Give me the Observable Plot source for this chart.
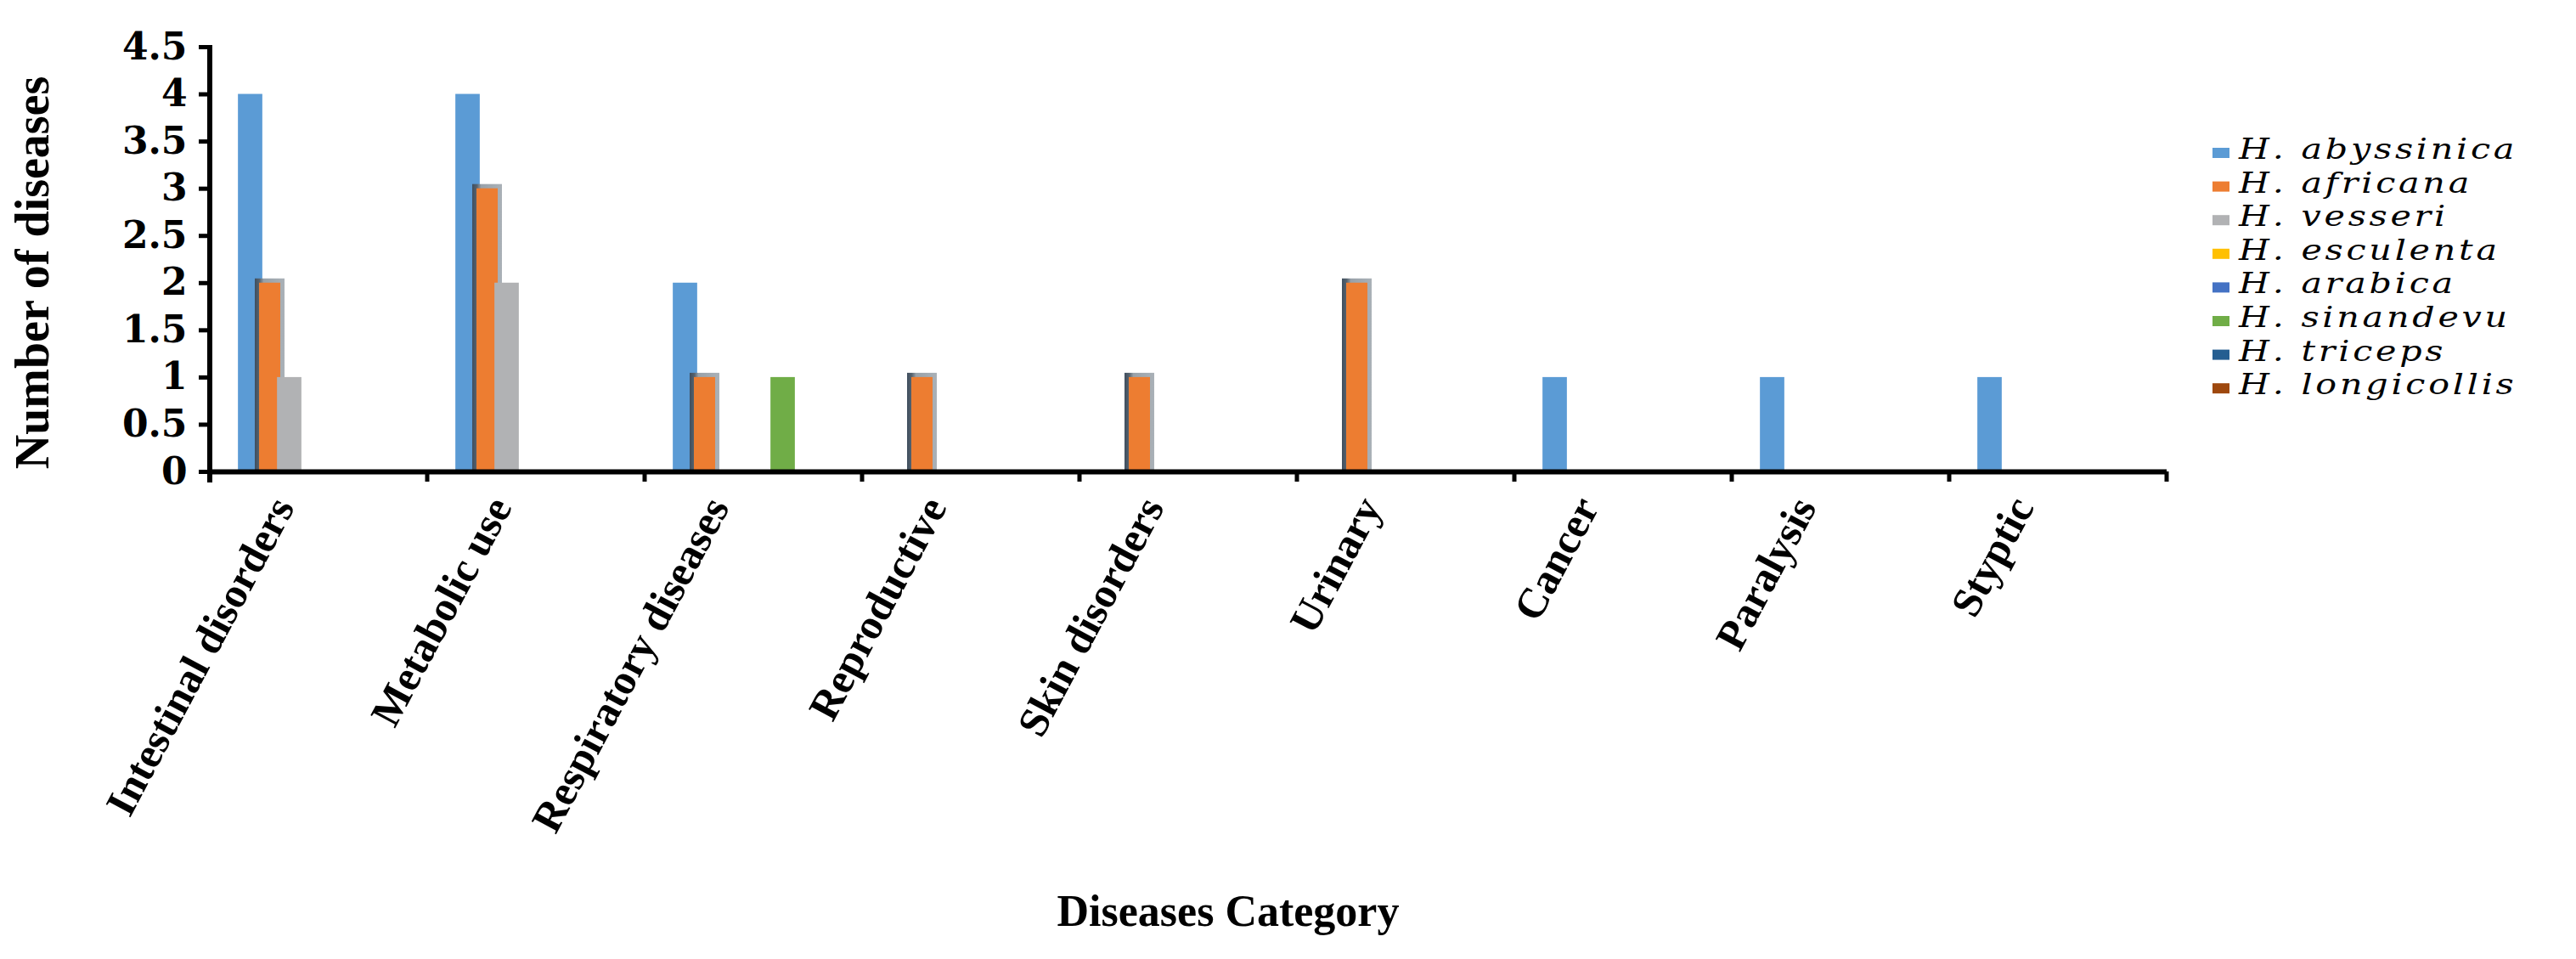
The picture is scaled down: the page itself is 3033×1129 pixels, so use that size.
<!DOCTYPE html>
<html>
<head>
<meta charset="utf-8">
<script src="https://cdn.jsdelivr.net/npm/d3@7"></script>
<script src="https://cdn.jsdelivr.net/npm/@observablehq/plot@0.6"></script>
<style>
  html, body { margin: 0; padding: 0; background: #fff; }
  #chart svg { display: block; }
</style>
</head>
<body>
<div id="chart"></div>
<script>
// ---- data ----
const categories = ["Intestinal disorders", "Metabolic use", "Respiratory diseases", "Reproductive",
  "Skin disorders", "Urinary", "Cancer", "Paralysis", "Styptic"];
const species = ["H. abyssinica", "H. africana", "H. vesseri", "H. esculenta",
  "H. arabica", "H. sinandevu", "H. triceps", "H. longicollis"];
const colors = ["#5B9BD5", "#ED7D31", "#B1B2B4", "#FFC000", "#4472C4", "#70AD47", "#255E91", "#9E480E"];

const abyssinica  = [4, 4, 2, 0, 0, 0, 1, 1, 1];
const africana    = [2, 3, 1, 1, 1, 2, 0, 0, 0];
const vesseri     = [1, 2, 0, 0, 0, 0, 0, 0, 0];
const esculenta   = [0, 0, 0, 0, 0, 0, 0, 0, 0];
const arabica     = [0, 0, 0, 0, 0, 0, 0, 0, 0];
const sinandevu   = [0, 0, 1, 0, 0, 0, 0, 0, 0];
const triceps     = [0, 0, 0, 0, 0, 0, 0, 0, 0];
const longicollis = [0, 0, 0, 0, 0, 0, 0, 0, 0];

const yTicks = [0, 0.5, 1, 1.5, 2, 2.5, 3, 3.5, 4, 4.5];
const yTitle = "Number of diseases";
const xTitle = "Diseases Category";

// ---- table ----
const seriesValues = [abyssinica, africana, vesseri, esculenta, arabica, sinandevu, triceps, longicollis];
const rows = [];
species.forEach((s, i) => categories.forEach((c, j) =>
  rows.push({category: c, species: s, value: seriesValues[i][j]})));
const shown = rows.filter(d => d.value > 0);
const first = shown.filter(d => d.species === species[0]);
const second = shown.filter(d => d.species === species[1]);
const rest = shown.filter(d => species.indexOf(d.species) >= 2);

const W = 3033, H = 1129;
const labelFont = "'Liberation Serif', serif";

const plot = Plot.plot({
  width: W,
  height: H,
  marginLeft: 247,
  marginRight: 482,
  marginTop: 55,
  marginBottom: 574,
  style: {background: "white", overflow: "visible"},
  fx: {domain: categories, padding: 0, label: null},
  x: {domain: species, paddingInner: 0, paddingOuter: 1.49, axis: null},
  y: {domain: [0, 4.5], label: null},
  color: {domain: species, range: colors},
  marks: [
    Plot.barY(first, {fx: "category", x: "species", y: "value", fill: "species",
      insetLeft: -2.85, insetRight: -2.85}),
    Plot.barY(second, {fx: "category", x: "species", y: "value", fill: "url(#orangeShadow)",
      insetLeft: -6, insetRight: -6, insetTop: -5}),
    Plot.barY(second, {fx: "category", x: "species", y: "value", fill: "species",
      insetLeft: -1, insetRight: -1}),
    Plot.barY(rest, {fx: "category", x: "species", y: "value", fill: "species",
      insetLeft: -2.85, insetRight: -2.85}),
    Plot.ruleY([0], {stroke: "black", strokeWidth: 6}),
    Plot.axisY({
      anchor: "left", ticks: yTicks, tickSize: 13, tickPadding: 14, strokeWidth: 5,
      tickFormat: d3.format("~g"), fontSize: 44, fontFamily: "'DejaVu Serif', serif",
      fontWeight: "bold", label: null
    }),
    Plot.axisFx({
      anchor: "bottom", tickSize: 0, tickPadding: 34, tickRotate: -62, dx: -42,
      fontSize: 50, fontFamily: labelFont, fontWeight: "bold", label: null
    })
  ]
});

document.getElementById("chart").appendChild(plot);

// ---- decorations drawn from the library's scales ----
const svg = d3.select(plot);
const fx = plot.scale("fx");
const y = plot.scale("y");
const y0 = y.apply(0), yTop = y.apply(4.5);
const left = fx.apply(categories[0]);
const right = fx.apply(categories[categories.length - 1]) + fx.bandwidth;

const defs = svg.append("defs");
const grad = defs.append("linearGradient").attr("id", "orangeShadow")
  .attr("x1", 0).attr("x2", 1).attr("y1", 0).attr("y2", 0);
grad.append("stop").attr("offset", 0).attr("stop-color", "#3f4e5e");
grad.append("stop").attr("offset", 0.16).attr("stop-color", "#56636f");
grad.append("stop").attr("offset", 0.3).attr("stop-color", "#98a1a9");
grad.append("stop").attr("offset", 1).attr("stop-color", "#aab1b7");

// y axis line
svg.append("line")
  .attr("x1", left).attr("x2", left)
  .attr("y1", yTop - 2).attr("y2", y0 + 13)
  .attr("stroke", "black").attr("stroke-width", 6);

// category boundary ticks
const bounds = categories.map(c => fx.apply(c)).concat([right]);
svg.append("g").selectAll("line").data(bounds).join("line")
  .attr("x1", d => d).attr("x2", d => d)
  .attr("y1", y0).attr("y2", y0 + 12)
  .attr("stroke", "black").attr("stroke-width", 5);

// axis titles
svg.append("text")
  .attr("transform", `translate(57,${(y0 + yTop) / 2 + 16}) rotate(-90)`)
  .attr("text-anchor", "middle")
  .style("font-family", labelFont).style("font-weight", "bold").style("font-size", "56px")
  .attr("fill", "black")
  .text(yTitle);

svg.append("text")
  .attr("x", 1446).attr("y", 1090)
  .attr("text-anchor", "middle")
  .style("font-family", labelFont).style("font-weight", "bold").style("font-size", "52px")
  .attr("fill", "black")
  .text(xTitle);

// legend
const legend = svg.append("g").attr("transform", "translate(2605,187)");
const item = legend.selectAll("g").data(species).join("g")
  .attr("transform", (d, i) => `translate(0,${i * 39.6})`);
item.append("rect")
  .attr("x", 0).attr("y", -13).attr("width", 20).attr("height", 12)
  .attr("fill", (d, i) => colors[i]);
item.append("text")
  .attr("transform", "translate(31,0) scale(1.25,1)")
  .attr("text-anchor", "start")
  .style("font-family", "'DejaVu Serif', serif").style("font-style", "italic")
  .style("font-size", "33px").style("letter-spacing", "3px")
  .attr("fill", "black")
  .text(d => d);
</script>
</body>
</html>
